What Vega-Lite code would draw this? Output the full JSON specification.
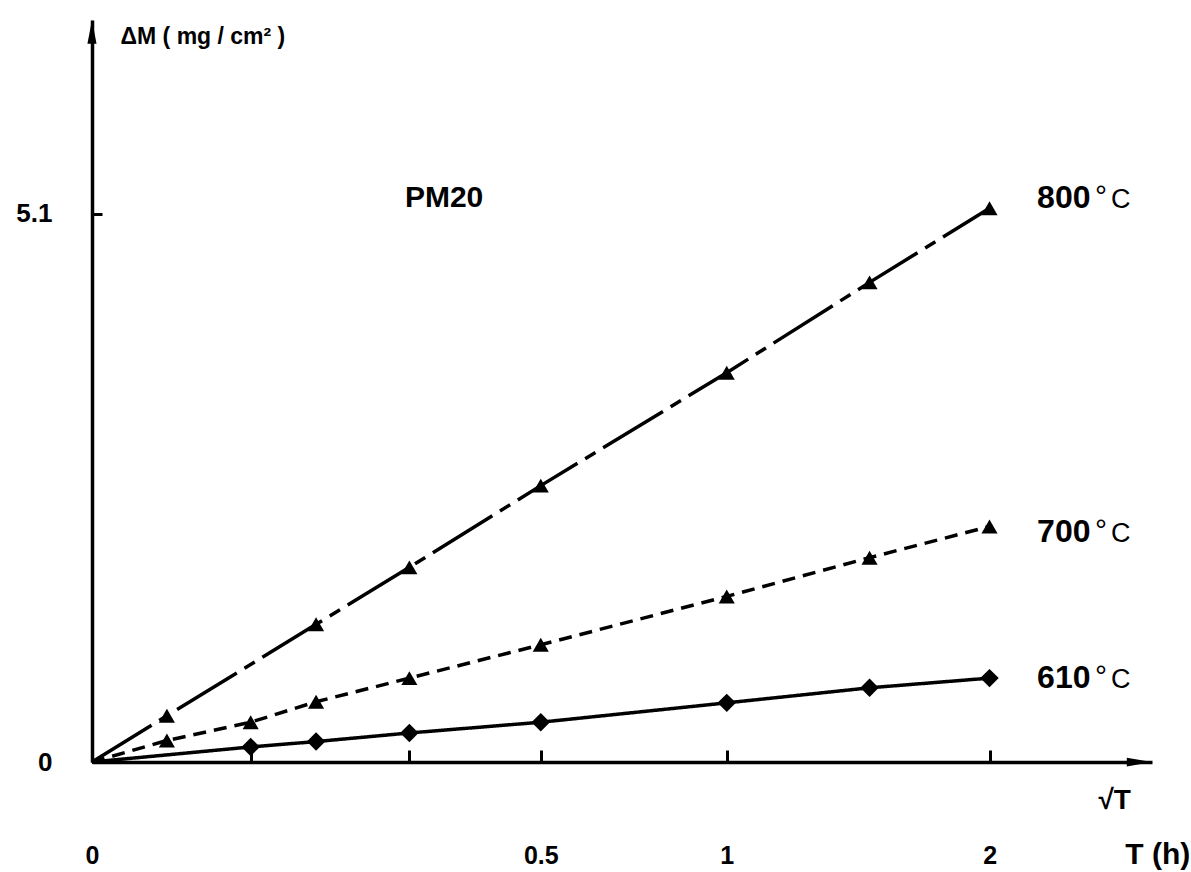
{
  "$schema": "https://vega.github.io/schema/vega-lite/v6.json",
  "width": 1060,
  "height": 742,
  "autosize": {"type": "none"},
  "padding": {"left": 92, "top": 20, "right": 39, "bottom": 110},
  "background": "white",
  "config": {"view": {"stroke": null}, "font": "Liberation Sans"},
  "datasets": {
    "series": [
      {"series": "800°C", "sqrtT": 0, "dM": 0},
      {"series": "800°C", "sqrtT": 0.118, "dM": 0.43},
      {"series": "800°C", "sqrtT": 0.353, "dM": 1.28},
      {"series": "800°C", "sqrtT": 0.5, "dM": 1.81},
      {"series": "800°C", "sqrtT": 0.707, "dM": 2.57},
      {"series": "800°C", "sqrtT": 1.0, "dM": 3.62},
      {"series": "800°C", "sqrtT": 1.225, "dM": 4.46},
      {"series": "800°C", "sqrtT": 1.414, "dM": 5.15},
      {"series": "700°C", "sqrtT": 0, "dM": 0},
      {"series": "700°C", "sqrtT": 0.118, "dM": 0.2},
      {"series": "700°C", "sqrtT": 0.25, "dM": 0.37},
      {"series": "700°C", "sqrtT": 0.353, "dM": 0.56},
      {"series": "700°C", "sqrtT": 0.5, "dM": 0.78},
      {"series": "700°C", "sqrtT": 0.707, "dM": 1.09},
      {"series": "700°C", "sqrtT": 1.0, "dM": 1.54},
      {"series": "700°C", "sqrtT": 1.225, "dM": 1.9},
      {"series": "700°C", "sqrtT": 1.414, "dM": 2.19},
      {"series": "610°C", "sqrtT": 0, "dM": 0},
      {"series": "610°C", "sqrtT": 0.25, "dM": 0.14},
      {"series": "610°C", "sqrtT": 0.353, "dM": 0.19},
      {"series": "610°C", "sqrtT": 0.5, "dM": 0.27},
      {"series": "610°C", "sqrtT": 0.707, "dM": 0.37},
      {"series": "610°C", "sqrtT": 1.0, "dM": 0.55},
      {"series": "610°C", "sqrtT": 1.225, "dM": 0.69},
      {"series": "610°C", "sqrtT": 1.414, "dM": 0.78}
    ],
    "labels": [
      {"label": "800", "sqrtT": 1.489, "dM": 5.153},
      {"label": "700", "sqrtT": 1.489, "dM": 2.047},
      {"label": "610", "sqrtT": 1.489, "dM": 0.688}
    ],
    "notes": [
      {"text": "PM20", "sqrtT": 0.493, "dM": 5.163},
      {"text": "T (h)", "sqrtT": 1.628, "dM": -0.95}
    ],
    "arrows": [
      {"axis": "x", "sqrtT": 1.65, "dM": 0},
      {"axis": "y", "sqrtT": 0, "dM": 6.79}
    ]
  },
  "encoding": {
    "x": {
      "field": "sqrtT",
      "type": "quantitative",
      "scale": {"domain": [0, 1.67], "nice": false, "zero": true},
      "axis": {
        "title": "√T",
        "titleFont": "Liberation Sans",
        "titleFontSize": 28,
        "titleFontWeight": "bold",
        "titleColor": "black",
        "titleAngle": 0,
        "titleAlign": "left",
        "titleBaseline": "alphabetic",
        "titleX": 1006,
        "titleY": 46,
        "grid": false,
        "domainColor": "black",
        "domainWidth": 3.5,
        "tickColor": "black",
        "tickWidth": 3,
        "tickSize": -12,
        "values": [0, 0.25, 0.5, 0.7071, 1, 1.4142],
        "labelExpr": "datum.value == 0 ? '0' : abs(datum.value - 0.7071) < 0.01 ? '0.5' : datum.value == 1 ? '1' : abs(datum.value - 1.4142) < 0.01 ? '2' : ''",
        "labelFont": "Liberation Sans",
        "labelFontSize": 25,
        "labelFontWeight": "bold",
        "labelColor": "black",
        "labelPadding": 93,
        "labelFlush": false,
        "labelOverlap": false
      }
    },
    "y": {
      "field": "dM",
      "type": "quantitative",
      "scale": {"domain": [0, 6.9], "nice": false, "zero": true},
      "axis": {
        "title": "ΔM  ( mg / cm² )",
        "titleFont": "Liberation Sans",
        "titleFontSize": 23,
        "titleFontWeight": "bold",
        "titleColor": "black",
        "titleAngle": 0,
        "titleAlign": "left",
        "titleBaseline": "alphabetic",
        "titleX": 28,
        "titleY": 23,
        "grid": false,
        "domainColor": "black",
        "domainWidth": 3.5,
        "tickColor": "black",
        "tickWidth": 3,
        "tickSize": -10,
        "values": [0, 5.1],
        "labelExpr": "datum.value == 0 ? '0' : '5.1'",
        "labelFont": "Liberation Sans",
        "labelFontSize": 26,
        "labelFontWeight": "bold",
        "labelColor": "black",
        "labelPadding": 50,
        "labelFlush": false,
        "labelOverlap": false
      }
    }
  },
  "layer": [
    {
      "data": {"name": "series"},
      "mark": {"type": "line", "color": "black", "strokeWidth": 3.5, "clip": false},
      "encoding": {
        "strokeDash": {
          "field": "series",
          "type": "nominal",
          "scale": {"domain": ["800°C", "700°C", "610°C"], "range": [[70, 9, 12, 9], [13, 8], [1, 0]]},
          "legend": null
        }
      }
    },
    {
      "data": {"name": "series"},
      "transform": [{"filter": "datum.sqrtT > 0 && datum.series != '610°C'"}],
      "mark": {"type": "point", "shape": "triangle-up", "filled": true, "color": "black", "opacity": 1, "size": 260}
    },
    {
      "data": {"name": "series"},
      "transform": [{"filter": "datum.sqrtT > 0 && datum.series == '610°C'"}],
      "mark": {"type": "point", "shape": "diamond", "filled": true, "color": "black", "opacity": 1, "size": 340}
    },
    {
      "data": {"name": "labels"},
      "mark": {"type": "text", "align": "left", "baseline": "alphabetic", "font": "Liberation Sans", "fontSize": 32, "fontWeight": "bold", "color": "black"},
      "encoding": {"text": {"field": "label"}}
    },
    {
      "data": {"name": "labels"},
      "mark": {"type": "text", "align": "left", "baseline": "alphabetic", "dx": 58, "dy": -2, "font": "Liberation Sans", "fontSize": 30, "fontWeight": "normal", "color": "black", "text": "°"},
      "encoding": {}
    },
    {
      "data": {"name": "labels"},
      "mark": {"type": "text", "align": "left", "baseline": "alphabetic", "dx": 74, "font": "Liberation Sans", "fontSize": 27, "fontWeight": "normal", "color": "black", "text": "C"},
      "encoding": {}
    },
    {
      "data": {"name": "notes"},
      "mark": {"type": "text", "align": "left", "baseline": "alphabetic", "font": "Liberation Sans", "fontSize": 30, "fontWeight": "bold", "color": "black", "clip": false},
      "encoding": {"text": {"field": "text"}}
    },
    {
      "data": {"name": "arrows"},
      "transform": [{"filter": "datum.axis == 'x'"}],
      "mark": {"type": "point", "shape": "M1,0 L-1,-0.35 L-1,0.35 Z", "filled": true, "color": "black", "opacity": 1, "size": 625, "clip": false}
    },
    {
      "data": {"name": "arrows"},
      "transform": [{"filter": "datum.axis == 'y'"}],
      "mark": {"type": "point", "shape": "M0,-1 L-0.38,1 L0.38,1 Z", "filled": true, "color": "black", "opacity": 1, "size": 576, "clip": false}
    }
  ]
}
